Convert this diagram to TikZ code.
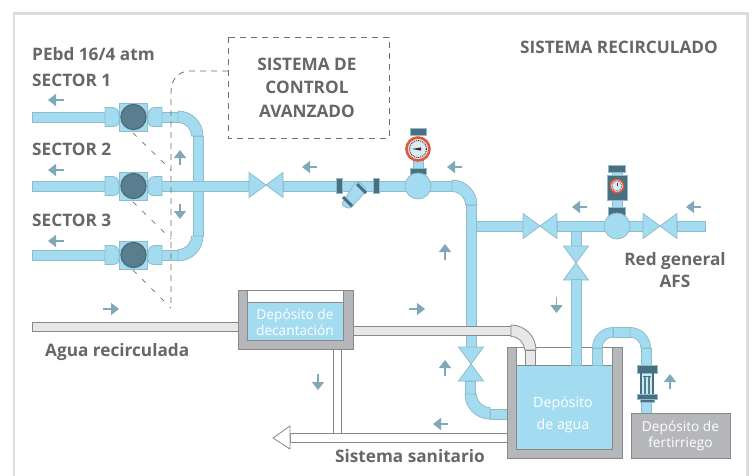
\documentclass[tikz,border=0pt]{standalone}
\usepackage{fontspec}
\setmainfont{Open Sans}
\usetikzlibrary{arrows.meta}
\definecolor{wat}{HTML}{A3DCF1}
\definecolor{wedge}{HTML}{8FBBCB}
\definecolor{wlite}{HTML}{C6EAF6}
\definecolor{dk}{HTML}{5A7E8E}
\definecolor{dkb}{HTML}{4A6F80}
\definecolor{arr}{HTML}{7FA8B8}
\definecolor{wall}{HTML}{B6B7BA}
\definecolor{wedg}{HTML}{87888B}
\definecolor{gp}{HTML}{E6E7E8}
\definecolor{txt}{HTML}{666769}
\definecolor{ln}{HTML}{6D6E71}
\definecolor{red1}{HTML}{E4573D}
\definecolor{gauge}{HTML}{DFEAEF}
\definecolor{frame}{HTML}{DCDDDE}
\tikzset{
  pipebox/.style={draw=wedge,fill=wat,line width=.8pt},
  graybox/.style={draw=wedg,fill=gp,line width=.8pt},
  whitebox/.style={draw=wedg,fill=white,line width=.8pt},
  darkpart/.style={draw=wedge,fill=dkb,line width=.6pt},
  dashline/.style={draw=ln,line width=.8pt,dash pattern=on 6pt off 5pt},
  dashdiag/.style={draw=ln,line width=.7pt,dash pattern=on 5pt off 8pt},
  flow/.style={draw=arr,line width=1.6pt,-{Triangle[length=8pt,width=12pt]}},
  lab/.style={text=txt,font=\fontsize{17.2}{20}\selectfont\bfseries,inner sep=0pt},
  tanklab/.style={text=white,align=center,font=\fontsize{13.7}{17}\selectfont,inner sep=0pt},
}
\newcommand{\hpipe}[4][pipebox]{\draw[#1] (#2,#4-5) rectangle (#3,#4+5);}
\newcommand{\vpipe}[4][pipebox]{\draw[#1] (#4-5,#2) rectangle (#4+5,#3);}
\newcommand{\elbow}[5][pipebox]{\draw[#1] ({#2+25*cos(#4)},{#3+25*sin(#4)}) arc[start angle=#4,end angle=#5,radius=25] -- ({#2+13.5*cos(#5)},{#3+13.5*sin(#5)}) arc[start angle=#5,end angle=#4,radius=13.5] -- cycle;}
\newcommand{\smallelbow}[4]{\draw[pipebox] ({#1+20.5*cos(#3)},{#2+20.5*sin(#3)}) arc[start angle=#3,end angle=#4,radius=20.5] -- ({#1+11*cos(#4)},{#2+11*sin(#4)}) arc[start angle=#4,end angle=#3,radius=11] -- cycle;}
\newcommand{\bowh}[2]{\draw[pipebox] (#1,#2) -- (#1-17,#2-12.5) -- (#1-17,#2+12.5) -- cycle; \draw[pipebox] (#1,#2) -- (#1+17,#2-12.5) -- (#1+17,#2+12.5) -- cycle;}
\newcommand{\bowv}[2]{\draw[pipebox] (#1,#2) -- (#1-12.5,#2-17) -- (#1+12.5,#2-17) -- cycle; \draw[pipebox] (#1,#2) -- (#1-12.5,#2+17) -- (#1+12.5,#2+17) -- cycle;}
\newcommand{\secvalve}[2]{%
  \draw[pipebox] (#1-14,#2-14) rectangle (#1+14,#2+14);
  \draw[pipebox] (#1-28.5,#2-9.5) -- (#1-21,#2-9.5) .. controls (#1-17,#2-9.5) and (#1-14.5,#2-6) .. (#1-14.5,#2-2) -- (#1-14.5,#2+4) .. controls (#1-14.5,#2+8) and (#1-17,#2+9.5) .. (#1-21,#2+9.5) -- (#1-28.5,#2+9.5) -- cycle;
  \draw[pipebox] (#1+28.5,#2-9.5) -- (#1+21,#2-9.5) .. controls (#1+17,#2-9.5) and (#1+14.5,#2-6) .. (#1+14.5,#2-2) -- (#1+14.5,#2+4) .. controls (#1+14.5,#2+8) and (#1+17,#2+9.5) .. (#1+21,#2+9.5) -- (#1+28.5,#2+9.5) -- cycle;
  \draw[draw=dkb,fill=dk,line width=1.4pt] (#1,#2) circle[radius=12.5];}
\begin{document}
\begin{tikzpicture}[x=1pt,y=-1pt]
\useasboundingbox (0,0) rectangle (752,475);
\fill[white] (0,0) rectangle (752,475);
\draw[frame,line width=2.5pt] (14,476) -- (14,13.5) -- (747.5,13.5) -- (747.5,476);

\hpipe{32}{106}{117} \hpipe{32}{106}{186} \hpipe{32}{106}{255}
\hpipe{161}{179}{117} \hpipe{161}{179}{255}
\vpipe{136}{181}{198} \vpipe{191}{236}{198}
\elbow{178}{136}{270}{360} \elbow{178}{236}{0}{90}
\hpipe{161}{250}{186}
\fill[wat] (192.6,181.5) rectangle (203.4,190.5);
\secvalve{133.5}{117} \secvalve{133.5}{186} \secvalve{133.5}{255}

\coordinate (ctlA) at (228,71);
\coordinate (ctlB) at (171,308);
\draw[dashline] (ctlA) -- (190,71) .. controls (178,71) and (171,80) .. (171,92) -- (ctlB);
\draw[dashdiag] (133,133) -- (171,170);
\draw[dashdiag] (133,202) -- (171,239);
\draw[dashdiag] (133,270) -- (171,308);

\hpipe{283}{452}{186}
\bowh{266}{185}
\draw[pipebox,rounded corners=3pt] (356,181) -- (362,184) -- (367,190) -- (350,209) -- (341,205) -- cycle;
\draw[darkpart,line width=.3pt] (336,178) rectangle (342,193);
\draw[darkpart,line width=.3pt] (373,178) rectangle (379,193);
\draw[dkb,line width=3pt] (357,184) -- (366,193);
\draw[dkb,line width=3pt] (343,197) -- (352,206);

\vpipe{205}{347}{471}
\elbow{452}{205}{270}{360}

\hpipe{476}{523}{226} \hpipe{557}{644}{226} \hpipe{677}{705}{226}
\vpipe{231}{247}{576}
\bowh{540}{226} \bowh{660}{226} \bowv{576}{263}

\draw[pipebox] (413,158) rectangle (423,172);
\draw[darkpart] (410,128) rectangle (426,135);
\draw[darkpart] (410,168) rectangle (426,174.5);
\draw[pipebox] (418,186) circle[radius=13];
\draw[fill=gauge,draw=red1,line width=2.6pt] (418,149) circle[radius=11.5];
\draw[black!80,line width=.9pt,dash pattern=on 1pt off 1pt] (418,149) circle[radius=8.5];
\fill[black!80] (412,149) -- (421,147.4) -- (421,150.6) -- cycle;

\draw[pipebox] (612,172) rectangle (622,207);
\draw[darkpart] (608,165) rectangle (625,172);
\draw[draw=wedge,fill=dkb,line width=.6pt] (607,175) rectangle (627,200);
\draw[darkpart] (608,207) rectangle (625,215);
\draw[pipebox] (617,226) circle[radius=13];
\draw[fill=gauge,draw=red1,line width=1.5pt] (617,186) circle[radius=6.6];
\draw[black!80,line width=.5pt,dash pattern=on .8pt off .8pt] (617,186) circle[radius=5];
\draw[black!80,line width=.8pt] (617,186) -- (617,182.5);

\draw[graybox] (32,322) rectangle (240,331);
\draw[graybox] (352,326) rectangle (511,335.5);

\bowv{471}{364}
\vpipe{381}{394}{470.5}
\elbow{490}{394}{90}{180}
\hpipe{490}{507}{414}

\draw[whitebox] (333,349) rectangle (341,434);
\draw[whitebox] (290,433.5) rectangle (507,442);
\draw[whitebox] (273,438) -- (290,426) -- (290,449) -- cycle;

\draw[draw=wedg,fill=wall,line width=.8pt] (238,290) -- (353,290) -- (353,349) -- (238,349) -- cycle;
\draw[draw=wedg,fill=white,line width=.8pt] (247,290) rectangle (343,302);
\draw[draw=wedg,fill=wat,line width=.6pt] (247,302) rectangle (343,340);
\node[tanklab] (dec) at (295,322.5) {Depósito de\\[-1.5pt]decantación};

\draw[wedg,line width=.8pt] (516,347) -- (612,347);
\draw[draw=wedg,fill=wall,line width=.8pt] (507,347) -- (516,347) -- (516,449) -- (612,449) -- (612,347) -- (622,347) -- (622,458) -- (507,458) -- cycle;
\draw[draw=wedg,fill=wat,line width=.6pt] (516,365) rectangle (612,449);
\vpipe{279}{365}{576}
\node[tanklab,font=\fontsize{14.2}{18}\selectfont] (agua) at (563,415) {Depósito\\[4.5pt]de agua};

\elbow[graybox]{511}{350}{270}{360}
\draw[graybox] (525,350) rectangle (535.5,365);

\vpipe{348}{365}{597.5}
\smallelbow{613}{348}{180}{270}
\hpipe{613}{631}{332.5}
\smallelbow{630}{348}{270}{360}
\vpipe{348}{366}{646}
\vpipe{401}{413}{646}
\fill[wlite] (640,372) rectangle (654,396);
\draw[darkpart] (637,365) rectangle (657,373);
\draw[darkpart] (637,394) rectangle (657,399);
\draw[darkpart] (640,399) rectangle (654,402);
\draw[dkb,line width=1.4pt] (641,373) -- (641,394) (653,373) -- (653,394);
\draw[dk,line width=2.4pt] (645,376) -- (645,394) (649,376) -- (649,394);
\draw[dkb,line width=.8pt] (643,376) -- (651,376);
\draw[draw=wedg,fill=wall,line width=.8pt] (631,413) rectangle (730,458);
\node[tanklab] (fert) at (680.5,436) {Depósito de\\[-1.5pt]fertirriego};

\coordinate (f1a) at (64,100); \coordinate (f1b) at (48,100); \draw[flow] (f1a) -- (f1b);
\coordinate (f2a) at (64,170); \coordinate (f2b) at (48,170); \draw[flow] (f2a) -- (f2b);
\coordinate (f3a) at (64,241); \coordinate (f3b) at (48,241); \draw[flow] (f3a) -- (f3b);
\coordinate (f4a) at (180,165); \coordinate (f4b) at (180,150); \draw[flow] (f4a) -- (f4b);
\coordinate (f5a) at (180,204); \coordinate (f5b) at (180,219); \draw[flow] (f5a) -- (f5b);
\coordinate (f6a) at (103,309); \coordinate (f6b) at (119,309); \draw[flow] (f6a) -- (f6b);
\coordinate (f7a) at (317,167); \coordinate (f7b) at (302,167); \draw[flow] (f7a) -- (f7b);
\coordinate (f8a) at (462,167); \coordinate (f8b) at (447,167); \draw[flow] (f8a) -- (f8b);
\coordinate (f9a) at (445,260); \coordinate (f9b) at (445,244); \draw[flow] (f9a) -- (f9b);
\coordinate (f10a) at (587,207); \coordinate (f10b) at (572,207); \draw[flow] (f10a) -- (f10b);
\coordinate (f11a) at (701,207); \coordinate (f11b) at (686,207); \draw[flow] (f11a) -- (f11b);
\coordinate (f12a) at (556.5,297); \coordinate (f12b) at (556.5,313); \draw[flow] (f12a) -- (f12b);
\coordinate (f13a) at (409,309); \coordinate (f13b) at (425,309); \draw[flow] (f13a) -- (f13b);
\coordinate (f14a) at (318,374); \coordinate (f14b) at (318,390); \draw[flow] (f14a) -- (f14b);
\coordinate (f15a) at (445,376); \coordinate (f15b) at (445,360); \draw[flow] (f15a) -- (f15b);
\coordinate (f16a) at (448,424); \coordinate (f16b) at (433,424); \draw[flow] (f16a) -- (f16b);
\coordinate (f17a) at (670,389); \coordinate (f17b) at (670,374); \draw[flow] (f17a) -- (f17b);

\draw[dashline] (228,37) rectangle (389,138);

\node[lab,anchor=base west] (pe) at (32,60) {PEbd 16/4 atm};
\node[lab,anchor=base west] (s1) at (32,86) {SECTOR 1};
\node[lab,anchor=base west] (s2) at (32,155) {SECTOR 2};
\node[lab,anchor=base west] (s3) at (32,226) {SECTOR 3};
\node[lab,anchor=base] (c1) at (307,70) {SISTEMA DE};
\node[lab,anchor=base] (c2) at (307,93) {CONTROL};
\node[lab,anchor=base] (c3) at (307,117) {AVANZADO};
\node[lab,anchor=base] (rec) at (619,53) {SISTEMA RECIRCULADO};
\node[lab,anchor=base] (r1) at (675,265) {Red general};
\node[lab,anchor=base] (r2) at (675,287) {AFS};
\node[lab,anchor=base west] (ag) at (45,356) {Agua recirculada};
\node[lab,anchor=base] (san) at (410,462) {Sistema sanitario};
\end{tikzpicture}
\end{document}
